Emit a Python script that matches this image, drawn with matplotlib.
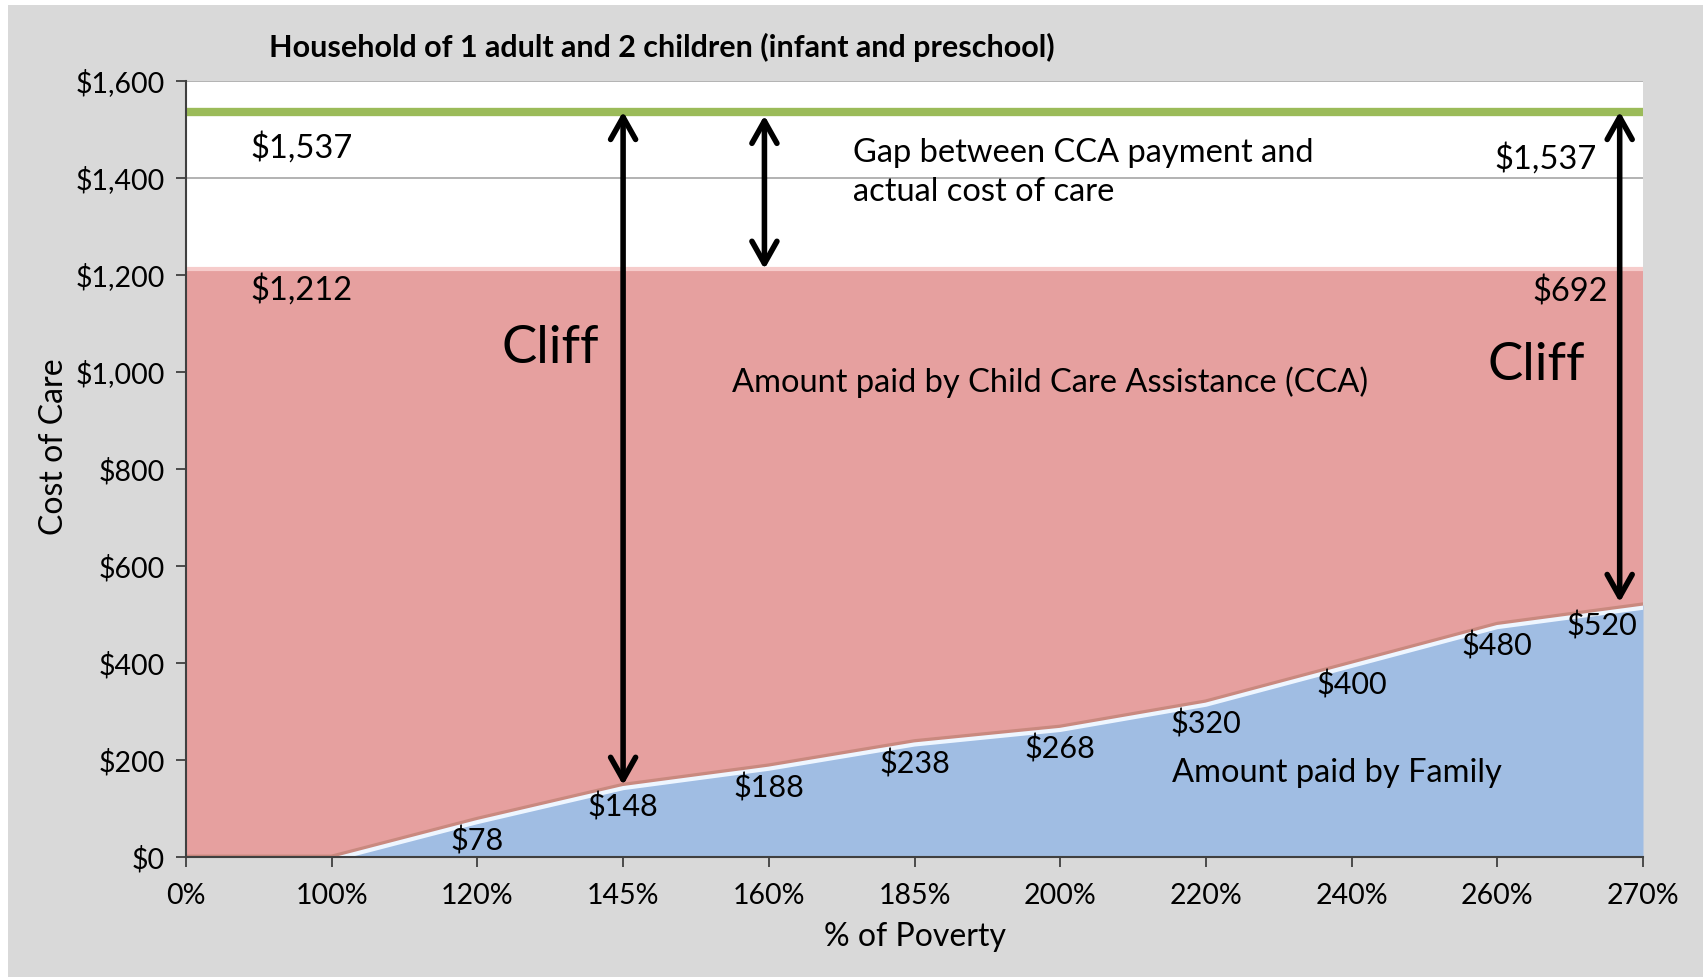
import matplotlib
matplotlib.use("Agg")
from matplotlib import pyplot as plt
from matplotlib.patches import Rectangle
import numpy as np

# data
categories = ["0%", "100%", "120%", "145%", "160%", "185%", "200%", "220%", "240%", "260%", "270%"]
family_paid = [0, 0, 78, 148, 188, 238, 268, 320, 400, 480, 520]
cca_total = [1212] * 11
actual_cost = 1537
yticks = [0, 200, 400, 600, 800, 1000, 1200, 1400, 1600]

plt.rcParams['font.family'] = ['Lato', 'DejaVu Sans']

fig = plt.figure(figsize=(17.07, 9.77), dpi=100, facecolor="white")
fig.patches.append(Rectangle((8 / 1707, 0), 1695 / 1707, 972 / 977, transform=fig.transFigure,
                             facecolor="#d9d9d9", edgecolor="none", zorder=-10))
ax = fig.add_axes([186 / 1707, 1 - 857 / 977, 1457 / 1707, 776 / 977])
ax.set_facecolor("white")

x = np.arange(len(categories))

# gridlines behind the areas
for v in yticks[1:]:
    ax.axhline(v, color="#a6a6a6", lw=1.2, zorder=1)

ax.fill_between(x, 0, cca_total, color="#e6a09f", lw=0, zorder=2)
ax.plot(x, cca_total, color="#f6cccb", lw=3, zorder=2.5)
ax.fill_between(x, 0, family_paid, color="#a0bde3", lw=0, zorder=3)
ax.plot(x, family_paid, color="#c9897f", lw=3.5, zorder=3.1)
ax.plot(x[1:], np.array(family_paid[1:]) - 6, color="#eef6ff", lw=3, zorder=3.2)
ax.axhline(actual_cost, color="#9bbb59", lw=6, zorder=4)

ax.set_xlim(0, len(categories) - 1)
ax.set_ylim(0, 1600)
ax.set_xticks(x)
ax.set_xticklabels(categories)
ax.set_yticks(yticks)
ax.set_yticklabels([f"${v:,}" for v in yticks])
ax.tick_params(axis="both", labelsize=20.5, length=7, width=1.3, color="#404040", pad=8)
ax.tick_params(axis="x", pad=12)
for s in ["top", "right"]:
    ax.spines[s].set_visible(False)
for s in ["left", "bottom"]:
    ax.spines[s].set_color("#404040")
    ax.spines[s].set_linewidth(1.5)
    ax.spines[s].set_zorder(6)

ax.set_ylabel("Cost of Care", fontsize=23)
ax.yaxis.set_label_coords(-0.08, 0.529)
ax.set_xlabel("% of Poverty", fontsize=23, labelpad=9)
ax.set_title("Household of 1 adult and 2 children (infant and preschool)",
             fontsize=22, fontweight="bold", loc="left", x=0.057, pad=17)

# data labels for the family share
for i, v in enumerate(family_paid):
    if v == 0:
        continue
    if i == len(family_paid) - 1:
        ax.text(i - 0.04, v - 14, f"${v}", ha="right", va="top", fontsize=22, zorder=7)
    else:
        ax.text(i, v - 16, f"${v}", ha="center", va="top", fontsize=22, zorder=7)

# annotations
ax.text(0.79, 1463, f"${actual_cost:,}", ha="center", va="center", fontsize=23.5, zorder=7)
ax.text(0.79, 1169, f"${cca_total[0]:,}", ha="center", va="center", fontsize=23.5, zorder=7)
ax.text(9.33, 1441, f"${actual_cost:,}", ha="center", va="center", fontsize=23.5, zorder=7)
ax.text(9.5, 1165, f"${cca_total[-1] - family_paid[-1]}", ha="center", va="center", fontsize=23.5, zorder=7)
ax.text(2.5, 1048, "Cliff", ha="center", va="center", fontsize=38, zorder=7)
ax.text(9.27, 1014, "Cliff", ha="center", va="center", fontsize=38, zorder=7)
ax.text(4.58, 1412, "Gap between CCA payment and\nactual cost of care", ha="left", va="center",
        fontsize=23.5, linespacing=1.38, zorder=7)
ax.text(5.93, 978, "Amount paid by Child Care Assistance (CCA)", ha="center", va="center",
        fontsize=23.5, zorder=7)
ax.text(6.77, 173, "Amount paid by Family", ha="left", va="center", fontsize=23.5, zorder=7)

arrow_kw = dict(arrowstyle="<->,head_length=0.8,head_width=0.45", color="black", lw=4,
                mutation_scale=20, shrinkA=0, shrinkB=0)
ax.annotate("", xy=(3, family_paid[3]), xytext=(3, actual_cost), arrowprops=arrow_kw, zorder=8)
ax.annotate("", xy=(3.97, cca_total[4]), xytext=(3.97, actual_cost - 8), arrowprops=arrow_kw, zorder=8)
ax.annotate("", xy=(9.84, family_paid[-1] + 5), xytext=(9.84, actual_cost), arrowprops=arrow_kw, zorder=8)

fig.savefig("out.png", dpi=100, facecolor=fig.get_facecolor())
